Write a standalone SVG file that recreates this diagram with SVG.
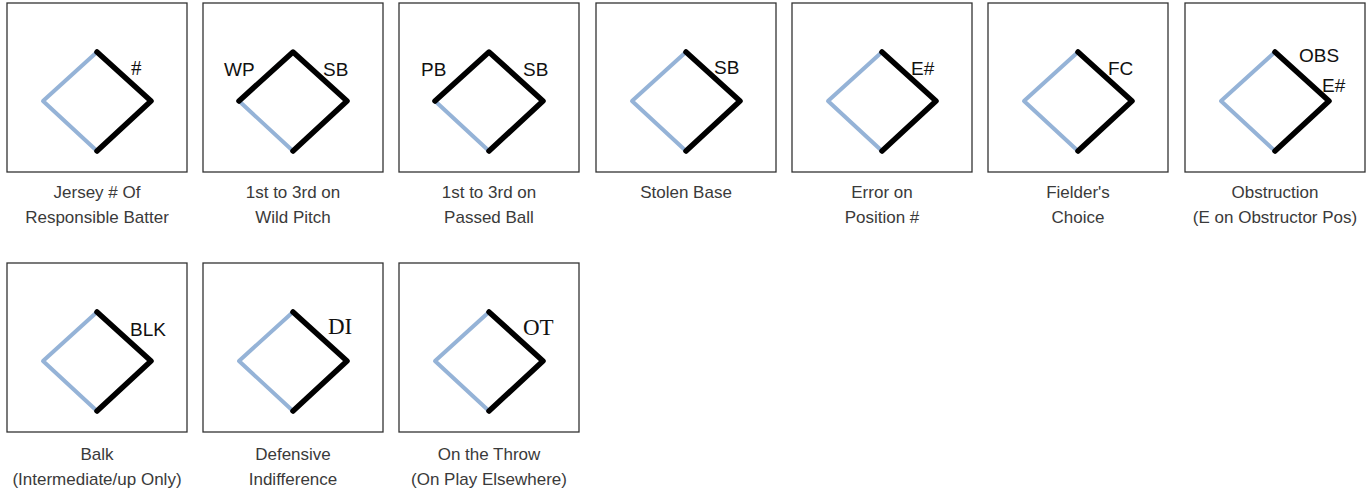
<svg xmlns="http://www.w3.org/2000/svg" xmlns:xlink="http://www.w3.org/1999/xlink" width="1369" height="491" viewBox="0 0 1369 491">
<style>
.box{fill:#fff;stroke:#333;stroke-width:1.3}
.blue{fill:none;stroke:#95B3D7;stroke-width:4;stroke-linejoin:round;stroke-linecap:round}
.blk{fill:none;stroke:#000;stroke-width:5.5;stroke-linejoin:round;stroke-linecap:round}
.lab{font-family:"Liberation Sans",Arial,sans-serif;font-size:19px;fill:#111}
.ser{font-family:"Liberation Serif","Times New Roman",serif;font-size:23px;fill:#111}
.cap{font-family:"Liberation Sans",Arial,sans-serif;font-size:17px;fill:#3a3a3a;text-anchor:middle}
</style>
<defs>
<g id="base">
<rect class="box" x="0" y="0" width="180" height="169"/>
<path class="blue" d="M90,148 L36,98 L90,49"/>
</g>
<path id="half" class="blk" d="M90,49 L144,98 L90,148"/>
<path id="three" class="blk" d="M36,98 L90,49 L144,98 L90,148"/>
</defs>
<g id="n1" transform="translate(7,3)">
<use xlink:href="#base"/><use xlink:href="#half"/>
<text class="ser" x="124" y="72" style="font-size:21px">#</text>
<text class="cap" x="90" y="195">Jersey # Of</text>
<text class="cap" x="90" y="220">Responsible Batter</text>
</g>
<g id="n2" transform="translate(203,3)">
<use xlink:href="#base"/><use xlink:href="#three"/>
<text class="lab" x="21" y="73">WP</text>
<text class="lab" x="120" y="73">SB</text>
<text class="cap" x="90" y="195">1st to 3rd on</text>
<text class="cap" x="90" y="220">Wild Pitch</text>
</g>
<g id="n3" transform="translate(399,3)">
<use xlink:href="#base"/><use xlink:href="#three"/>
<text class="lab" x="22" y="73">PB</text>
<text class="lab" x="124" y="73">SB</text>
<text class="cap" x="90" y="195">1st to 3rd on</text>
<text class="cap" x="90" y="220">Passed Ball</text>
</g>
<g id="n4" transform="translate(596,3)">
<use xlink:href="#base"/><use xlink:href="#half"/>
<text class="lab" x="118" y="71">SB</text>
<text class="cap" x="90" y="195">Stolen Base</text>
</g>
<g id="n5" transform="translate(792,3)">
<use xlink:href="#base"/><use xlink:href="#half"/>
<text class="lab" x="119" y="72">E#</text>
<text class="cap" x="90" y="195">Error on</text>
<text class="cap" x="90" y="220">Position #</text>
</g>
<g id="n6" transform="translate(988,3)">
<use xlink:href="#base"/><use xlink:href="#half"/>
<text class="lab" x="120" y="72">FC</text>
<text class="cap" x="90" y="195">Fielder's</text>
<text class="cap" x="90" y="220">Choice</text>
</g>
<g id="n7" transform="translate(1185,3)">
<use xlink:href="#base"/><use xlink:href="#half"/>
<text class="lab" x="114" y="59">OBS</text>
<text class="lab" x="137" y="89">E#</text>
<text class="cap" x="90" y="195">Obstruction</text>
<text class="cap" x="90" y="220">(E on Obstructor Pos)</text>
</g>
<g id="n8" transform="translate(7,263)">
<use xlink:href="#base"/><use xlink:href="#half"/>
<text class="lab" x="123" y="73">BLK</text>
<text class="cap" x="90" y="197">Balk</text>
<text class="cap" x="90" y="222">(Intermediate/up Only)</text>
</g>
<g id="n9" transform="translate(203,263)">
<use xlink:href="#base"/><use xlink:href="#half"/>
<text class="ser" x="125" y="71">DI</text>
<text class="cap" x="90" y="197">Defensive</text>
<text class="cap" x="90" y="222">Indifference</text>
</g>
<g id="n10" transform="translate(399,263)">
<use xlink:href="#base"/><use xlink:href="#half"/>
<text class="ser" x="124" y="72">OT</text>
<text class="cap" x="90" y="197">On the Throw</text>
<text class="cap" x="90" y="222">(On Play Elsewhere)</text>
</g>
<g id="connectors"/>
</svg>
